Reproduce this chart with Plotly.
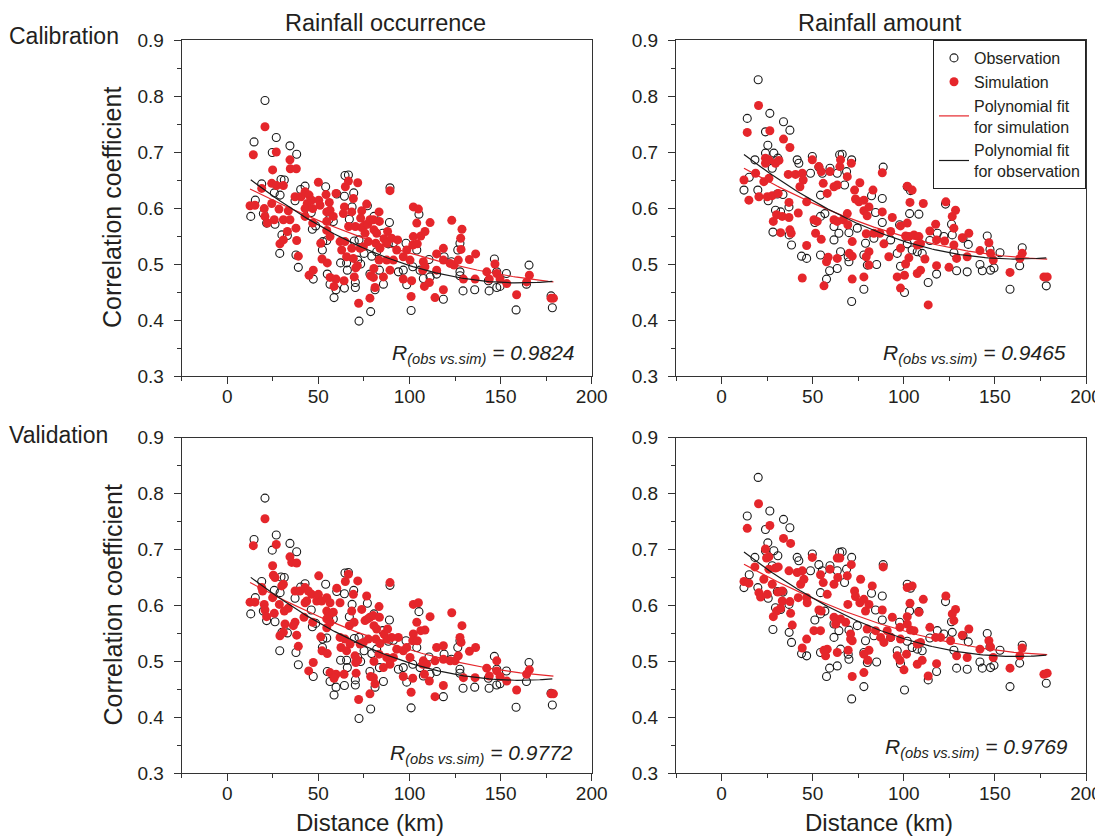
import numpy as np
import plotly.graph_objects as go

# ---------------- data (distance in km, correlation coefficient) ----------------
occ_obs_dist = [20.7, 14.7, 26.9, 24.7, 34.4, 38.1, 12.9, 15.4, 18.9, 19.8,
                21.6, 25.8, 29.0, 29.5, 31.3, 26.2, 30.0, 28.8, 33.0, 37.7,
                39.0, 42.7, 40.3, 37.2, 47.2, 46.7, 46.1, 48.5, 54.0, 52.4,
                54.6, 54.9, 52.2, 56.4, 58.6, 59.7, 58.2, 55.7, 60.1, 64.3,
                64.6, 66.5, 62.2, 65.5, 65.9, 64.3, 70.3, 70.3, 69.4, 68.5,
                67.0, 69.7, 72.3, 72.3, 71.6, 73.2, 75.1, 78.7, 78.3, 81.1,
                79.3, 80.5, 76.9, 82.0, 83.5, 85.3, 85.7, 88.4, 89.3, 89.0,
                91.2, 93.9, 96.6, 98.1, 98.5, 100.9, 101.8, 104.0, 105.2, 105.8,
                107.6, 111.3, 110.7, 114.9, 118.6, 119.0, 123.0, 126.5, 127.7, 127.7,
                127.7, 129.4, 135.8, 143.7, 143.3, 146.6, 147.9, 147.9, 149.7, 153.2,
                158.5, 164.2, 165.6, 177.7, 178.4]
occ_obs_r = [0.792, 0.718, 0.726, 0.699, 0.711, 0.696, 0.585, 0.614, 0.643, 0.590,
             0.573, 0.627, 0.623, 0.651, 0.650, 0.571, 0.552, 0.519, 0.551, 0.516,
             0.494, 0.639, 0.633, 0.613, 0.473, 0.562, 0.592, 0.568, 0.638, 0.540,
             0.542, 0.482, 0.525, 0.464, 0.440, 0.454, 0.576, 0.579, 0.625, 0.621,
             0.658, 0.659, 0.502, 0.502, 0.489, 0.457, 0.467, 0.458, 0.627, 0.602,
             0.580, 0.541, 0.543, 0.398, 0.507, 0.500, 0.519, 0.415, 0.482, 0.454,
             0.514, 0.585, 0.604, 0.522, 0.489, 0.555, 0.464, 0.536, 0.636, 0.574,
             0.538, 0.486, 0.489, 0.537, 0.463, 0.417, 0.495, 0.525, 0.589, 0.489,
             0.474, 0.477, 0.508, 0.482, 0.437, 0.513, 0.504, 0.525, 0.537, 0.486,
             0.479, 0.452, 0.454, 0.452, 0.470, 0.509, 0.486, 0.458, 0.460, 0.483,
             0.418, 0.464, 0.498, 0.443, 0.422]

occ_cal_sim_dist = [20.7, 14.3, 26.9, 34.4, 34.6, 37.9, 24.9, 24.4, 27.1, 30.8,
                    18.9, 12.5, 15.2, 20.3, 20.7, 22.0, 24.4, 28.4, 25.8, 30.8,
                    33.5, 34.4, 37.7, 33.0, 28.9, 30.8, 38.1, 39.0, 37.2, 40.5,
                    42.7, 44.9, 43.9, 42.7, 46.3, 46.9, 42.7, 46.9, 50.0, 50.2,
                    50.9, 54.2, 56.0, 54.6, 56.4, 59.7, 58.2, 54.6, 54.6, 56.4,
                    51.3, 52.0, 54.9, 44.9, 47.2, 56.4, 59.7, 58.6, 64.3, 63.7,
                    64.8, 66.5, 71.6, 69.2, 68.3, 66.6, 70.3, 61.9, 64.6, 62.8,
                    65.5, 68.3, 69.2, 70.5, 71.4, 69.7, 64.1, 72.1, 73.8, 73.2,
                    76.5, 73.8, 75.6, 75.6, 77.1, 78.3, 80.2, 83.3, 83.5, 80.5,
                    82.0, 74.7, 72.9, 77.4, 81.5, 83.8, 86.0, 88.0, 87.5, 90.2,
                    89.3, 83.3, 87.5, 91.2, 89.3, 85.7, 80.5, 78.7, 80.2, 81.1,
                    78.3, 93.5, 93.0, 96.6, 98.5, 100.3, 102.1, 104.9, 104.0, 102.1,
                    101.8, 104.3, 106.2, 108.5, 111.3, 96.6, 101.2, 100.9, 107.6, 107.3,
                    108.5, 108.2, 110.9, 114.0, 114.9, 114.9, 118.6, 118.6, 118.6, 123.2,
                    122.3, 124.5, 128.8, 128.1, 128.3, 126.8, 129.6, 132.9, 136.3, 136.0,
                    142.4, 143.8, 146.9, 147.9, 149.7, 153.4, 158.8, 164.3, 165.8, 177.7,
                    179.0]
occ_cal_sim_r = [0.745, 0.695, 0.700, 0.686, 0.670, 0.670, 0.668, 0.644, 0.640, 0.640,
                 0.635, 0.604, 0.605, 0.599, 0.585, 0.573, 0.608, 0.598, 0.579, 0.579,
                 0.595, 0.579, 0.564, 0.558, 0.536, 0.543, 0.542, 0.514, 0.620, 0.620,
                 0.629, 0.623, 0.608, 0.599, 0.614, 0.599, 0.585, 0.573, 0.646, 0.614,
                 0.605, 0.624, 0.610, 0.593, 0.596, 0.626, 0.585, 0.576, 0.560, 0.549,
                 0.537, 0.509, 0.502, 0.480, 0.489, 0.476, 0.473, 0.460, 0.602, 0.590,
                 0.638, 0.648, 0.645, 0.617, 0.593, 0.567, 0.567, 0.540, 0.540, 0.525,
                 0.513, 0.528, 0.510, 0.493, 0.497, 0.477, 0.470, 0.430, 0.595, 0.582,
                 0.607, 0.565, 0.570, 0.555, 0.571, 0.579, 0.579, 0.593, 0.576, 0.561,
                 0.555, 0.531, 0.528, 0.540, 0.537, 0.528, 0.545, 0.558, 0.537, 0.546,
                 0.631, 0.507, 0.507, 0.507, 0.489, 0.477, 0.492, 0.479, 0.476, 0.458,
                 0.439, 0.543, 0.525, 0.513, 0.525, 0.507, 0.602, 0.598, 0.573, 0.549,
                 0.534, 0.536, 0.550, 0.558, 0.574, 0.473, 0.470, 0.442, 0.504, 0.489,
                 0.495, 0.460, 0.467, 0.440, 0.518, 0.489, 0.528, 0.507, 0.454, 0.578,
                 0.501, 0.498, 0.562, 0.546, 0.526, 0.507, 0.473, 0.508, 0.518, 0.473,
                 0.486, 0.473, 0.500, 0.483, 0.473, 0.465, 0.445, 0.468, 0.480, 0.439,
                 0.439]

occ_val_sim_dist = [20.7, 14.3, 26.9, 34.4, 35.4, 38.1, 24.9, 25.3, 26.2, 29.9,
                    30.8, 18.9, 19.4, 12.5, 15.2, 20.3, 20.7, 21.6, 24.9, 28.6,
                    25.8, 31.3, 33.5, 37.2, 36.3, 31.7, 28.9, 30.8, 38.1, 39.0,
                    37.2, 39.9, 42.7, 44.5, 43.6, 42.7, 46.3, 49.1, 42.1, 46.9,
                    50.2, 50.0, 51.8, 54.6, 56.4, 54.6, 56.4, 60.1, 61.9, 58.2,
                    54.6, 54.6, 56.4, 51.3, 52.0, 54.9, 44.7, 47.2, 56.4, 59.7,
                    58.6, 64.8, 66.5, 71.6, 69.2, 68.3, 67.0, 69.6, 61.9, 64.6,
                    62.4, 65.5, 67.4, 70.1, 70.5, 71.6, 70.7, 64.1, 72.1, 73.8,
                    76.5, 75.6, 77.1, 78.3, 80.2, 83.3, 83.5, 80.5, 82.0, 74.7,
                    72.9, 77.4, 81.5, 83.8, 86.0, 88.0, 87.5, 90.2, 89.3, 83.3,
                    87.5, 91.2, 89.3, 85.7, 80.5, 78.7, 80.2, 81.1, 78.3, 93.9,
                    93.0, 96.6, 98.5, 100.3, 102.1, 104.9, 104.0, 102.1, 101.8, 104.3,
                    106.2, 108.5, 111.3, 96.6, 101.8, 100.9, 107.6, 107.3, 109.4, 108.2,
                    110.9, 114.0, 114.9, 114.0, 118.6, 118.6, 118.6, 123.2, 122.3, 125.0,
                    128.8, 127.7, 128.3, 126.8, 129.6, 132.9, 136.3, 136.0, 142.4, 143.8,
                    147.9, 147.9, 149.7, 153.4, 158.8, 164.3, 165.8, 177.7, 179.0]
occ_val_sim_r = [0.755, 0.707, 0.709, 0.687, 0.677, 0.676, 0.671, 0.654, 0.650, 0.635,
                 0.638, 0.632, 0.626, 0.606, 0.606, 0.602, 0.592, 0.580, 0.614, 0.602,
                 0.586, 0.590, 0.595, 0.570, 0.564, 0.567, 0.546, 0.552, 0.547, 0.527,
                 0.626, 0.626, 0.632, 0.626, 0.608, 0.605, 0.620, 0.608, 0.579, 0.570,
                 0.653, 0.620, 0.608, 0.614, 0.605, 0.590, 0.585, 0.631, 0.605, 0.588,
                 0.576, 0.560, 0.570, 0.544, 0.519, 0.514, 0.483, 0.498, 0.480, 0.477,
                 0.470, 0.643, 0.656, 0.644, 0.620, 0.590, 0.564, 0.570, 0.543, 0.540,
                 0.525, 0.519, 0.531, 0.510, 0.498, 0.502, 0.479, 0.477, 0.432, 0.593,
                 0.617, 0.573, 0.576, 0.579, 0.582, 0.598, 0.579, 0.564, 0.558, 0.534,
                 0.531, 0.540, 0.540, 0.532, 0.549, 0.558, 0.540, 0.543, 0.641, 0.513,
                 0.507, 0.507, 0.495, 0.489, 0.500, 0.473, 0.471, 0.460, 0.442, 0.543,
                 0.522, 0.519, 0.525, 0.507, 0.602, 0.605, 0.570, 0.549, 0.537, 0.537,
                 0.555, 0.556, 0.580, 0.473, 0.470, 0.445, 0.501, 0.495, 0.495, 0.477,
                 0.465, 0.437, 0.525, 0.501, 0.528, 0.504, 0.457, 0.587, 0.501, 0.501,
                 0.564, 0.543, 0.534, 0.510, 0.471, 0.518, 0.525, 0.471, 0.488, 0.474,
                 0.501, 0.483, 0.473, 0.465, 0.449, 0.477, 0.485, 0.442, 0.442]

amt_obs_dist = [20.1, 14.1, 26.5, 34.0, 37.5, 24.1, 25.4, 28.7, 30.9, 24.1,
                18.3, 12.3, 15.2, 19.9, 25.6, 30.6, 33.7, 27.8, 29.6, 32.4,
                28.2, 37.0, 37.1, 38.4, 43.9, 46.7, 41.5, 42.4, 49.8, 48.8,
                53.4, 55.3, 59.5, 63.5, 64.8, 66.2, 71.4, 67.5, 68.6, 54.3,
                56.7, 51.2, 54.3, 61.7, 61.7, 64.4, 69.9, 54.3, 57.6, 59.3,
                63.5, 65.3, 69.5, 69.9, 71.4, 74.5, 78.1, 78.1, 80.0, 79.0,
                82.3, 84.5, 88.2, 88.7, 83.6, 88.2, 85.1, 92.8, 96.4, 97.7,
                98.2, 100.4, 101.9, 103.7, 103.2, 108.3, 101.9, 104.6, 107.4, 110.1,
                113.4, 114.3, 118.4, 118.0, 122.0, 122.9, 126.2, 126.6, 127.5, 129.0,
                132.5, 134.8, 135.4, 141.8, 143.1, 145.8, 147.3, 147.6, 149.5, 152.8,
                158.3, 163.6, 165.0, 178.2]
amt_obs_r = [0.829, 0.760, 0.769, 0.754, 0.739, 0.736, 0.712, 0.698, 0.689, 0.698,
             0.686, 0.632, 0.655, 0.632, 0.613, 0.625, 0.624, 0.671, 0.596, 0.593,
             0.557, 0.602, 0.552, 0.534, 0.514, 0.510, 0.686, 0.680, 0.692, 0.662,
             0.673, 0.662, 0.671, 0.662, 0.695, 0.696, 0.686, 0.641, 0.665, 0.623,
             0.590, 0.574, 0.585, 0.567, 0.543, 0.555, 0.556, 0.516, 0.473, 0.488,
             0.492, 0.522, 0.513, 0.504, 0.433, 0.564, 0.455, 0.516, 0.498, 0.537,
             0.622, 0.592, 0.617, 0.673, 0.546, 0.574, 0.499, 0.543, 0.519, 0.570,
             0.496, 0.449, 0.638, 0.631, 0.590, 0.589, 0.536, 0.525, 0.522, 0.519,
             0.467, 0.542, 0.555, 0.482, 0.549, 0.607, 0.571, 0.552, 0.520, 0.488,
             0.546, 0.486, 0.535, 0.499, 0.488, 0.550, 0.526, 0.489, 0.493, 0.520,
             0.455, 0.497, 0.529, 0.461]

amt_cal_sim_dist = [20.3, 14.1, 26.5, 34.0, 37.5, 24.1, 26.0, 24.1, 29.6, 31.5,
                    12.3, 15.0, 18.7, 20.5, 23.2, 26.0, 25.1, 27.8, 31.1, 28.4,
                    30.2, 33.3, 32.4, 37.0, 37.0, 37.5, 38.2, 36.6, 40.6, 42.1,
                    44.3, 44.8, 43.0, 46.7, 46.7, 44.3, 49.8, 50.7, 51.6, 52.5,
                    54.7, 53.4, 54.7, 55.8, 58.0, 59.5, 61.7, 63.5, 64.9, 65.3,
                    69.0, 71.2, 61.7, 63.5, 66.8, 69.0, 69.3, 71.7, 70.1, 71.7,
                    63.5, 58.5, 57.6, 56.2, 71.7, 73.0, 73.5, 75.9, 75.4, 78.1,
                    78.1, 80.9, 83.1, 79.9, 79.4, 83.6, 80.9, 79.4, 78.1, 80.9,
                    88.2, 88.2, 86.9, 89.1, 92.8, 91.8, 93.7, 98.2, 98.2, 96.4,
                    98.2, 101.0, 101.9, 103.4, 101.9, 104.6, 102.8, 101.0, 100.4, 102.8,
                    105.6, 107.4, 108.3, 109.2, 107.4, 109.2, 110.7, 111.6, 113.4, 114.3,
                    117.5, 118.0, 118.0, 122.4, 123.1, 124.8, 127.5, 128.4, 126.6, 127.5,
                    129.0, 132.1, 135.7, 134.8, 141.8, 146.7, 147.6, 149.1, 158.3, 163.7,
                    165.0, 176.9, 178.7]
amt_cal_sim_r = [0.783, 0.735, 0.738, 0.723, 0.708, 0.689, 0.686, 0.680, 0.680, 0.685,
                 0.650, 0.614, 0.662, 0.620, 0.647, 0.653, 0.620, 0.622, 0.626, 0.576,
                 0.588, 0.585, 0.556, 0.610, 0.583, 0.561, 0.555, 0.660, 0.660, 0.591,
                 0.662, 0.650, 0.638, 0.611, 0.533, 0.475, 0.686, 0.579, 0.555, 0.576,
                 0.544, 0.674, 0.665, 0.644, 0.626, 0.665, 0.638, 0.641, 0.674, 0.686,
                 0.656, 0.680, 0.579, 0.576, 0.579, 0.590, 0.570, 0.540, 0.519, 0.514,
                 0.510, 0.512, 0.504, 0.461, 0.473, 0.632, 0.616, 0.645, 0.611, 0.614,
                 0.595, 0.602, 0.632, 0.586, 0.554, 0.555, 0.522, 0.513, 0.477, 0.498,
                 0.663, 0.593, 0.555, 0.536, 0.558, 0.513, 0.583, 0.568, 0.528, 0.477,
                 0.457, 0.550, 0.573, 0.610, 0.639, 0.632, 0.511, 0.500, 0.480, 0.549,
                 0.552, 0.534, 0.549, 0.536, 0.483, 0.489, 0.608, 0.509, 0.427, 0.559,
                 0.571, 0.543, 0.497, 0.541, 0.611, 0.494, 0.564, 0.596, 0.585, 0.534,
                 0.510, 0.547, 0.555, 0.513, 0.524, 0.538, 0.519, 0.507, 0.485, 0.510,
                 0.519, 0.477, 0.477]

amt_val_sim_dist = [20.3, 14.1, 26.5, 34.0, 37.9, 24.1, 26.0, 24.7, 29.6, 31.1,
                    12.3, 15.0, 18.3, 20.5, 21.4, 23.2, 26.0, 25.1, 27.8, 30.9,
                    33.3, 28.4, 30.2, 32.4, 33.3, 37.5, 37.9, 38.8, 37.0, 41.5,
                    42.1, 44.3, 43.4, 45.2, 46.7, 47.0, 46.7, 44.3, 49.8, 50.7,
                    54.3, 53.4, 54.7, 54.3, 55.8, 58.0, 59.5, 61.7, 63.8, 63.5,
                    64.9, 69.0, 71.2, 61.7, 62.6, 65.3, 68.1, 69.3, 70.8, 70.8,
                    69.5, 71.7, 63.5, 58.0, 57.1, 56.2, 71.7, 73.0, 73.5, 76.3,
                    75.9, 78.1, 79.0, 80.9, 82.7, 79.9, 84.5, 80.9, 78.1, 78.1,
                    80.3, 88.7, 88.2, 87.3, 89.1, 92.8, 90.9, 93.7, 97.9, 98.2,
                    96.4, 97.9, 100.1, 101.9, 101.9, 103.4, 101.9, 104.6, 101.5, 103.7,
                    105.6, 107.4, 108.3, 109.2, 107.4, 110.1, 110.7, 113.4, 114.3, 117.5,
                    118.0, 120.2, 123.1, 125.7, 127.5, 128.4, 126.6, 129.0, 132.1, 135.7,
                    134.8, 141.8, 146.7, 147.6, 149.1, 158.3, 163.7, 165.0, 176.9, 178.7]
amt_val_sim_r = [0.782, 0.738, 0.743, 0.720, 0.711, 0.701, 0.687, 0.685, 0.667, 0.669,
                 0.643, 0.640, 0.669, 0.623, 0.615, 0.647, 0.665, 0.620, 0.638, 0.624,
                 0.626, 0.580, 0.590, 0.595, 0.608, 0.607, 0.586, 0.565, 0.662, 0.659,
                 0.614, 0.662, 0.638, 0.647, 0.614, 0.605, 0.540, 0.524, 0.686, 0.555,
                 0.555, 0.592, 0.590, 0.655, 0.641, 0.620, 0.665, 0.638, 0.650, 0.685,
                 0.685, 0.653, 0.673, 0.579, 0.567, 0.576, 0.570, 0.602, 0.549, 0.540,
                 0.520, 0.537, 0.516, 0.522, 0.510, 0.520, 0.473, 0.626, 0.616, 0.647,
                 0.605, 0.611, 0.590, 0.602, 0.635, 0.558, 0.555, 0.520, 0.513, 0.480,
                 0.502, 0.669, 0.592, 0.543, 0.534, 0.543, 0.555, 0.579, 0.561, 0.540,
                 0.510, 0.502, 0.485, 0.580, 0.567, 0.604, 0.632, 0.635, 0.513, 0.556,
                 0.555, 0.531, 0.588, 0.534, 0.495, 0.502, 0.611, 0.474, 0.561, 0.543,
                 0.496, 0.543, 0.617, 0.537, 0.573, 0.593, 0.585, 0.510, 0.547, 0.558,
                 0.507, 0.522, 0.537, 0.526, 0.507, 0.488, 0.510, 0.524, 0.477, 0.479]

r_labels = ["0.9824", "0.9465", "0.9772", "0.9769"]
column_titles = ["Rainfall occurrence", "Rainfall amount"]
row_titles = ["Calibration", "Validation"]
y_ticks = [0.3, 0.4, 0.5, 0.6, 0.7, 0.8, 0.9]
x_ticks = [0, 50, 100, 150, 200]

# ---------------- styling ----------------
PAGE_W, PAGE_H = 1103, 837
BODY_MARGIN = 8  # default page margin around the plot div
W, H = PAGE_W - BODY_MARGIN, PAGE_H - BODY_MARGIN
FONT = "Liberation Sans, Arial, Helvetica, sans-serif"
TXT = "#231f20"
RED = "#e5262b"
BLK = "#1a1a1a"


def px(x):
    """page pixel x -> paper fraction"""
    return (x - BODY_MARGIN) / W


def py(y):
    """page pixel y -> paper fraction"""
    return 1 - (y - BODY_MARGIN) / H


x_dom = [[px(181.7), px(591.7)], [px(676.0), px(1086.0)]]
y_dom = [[py(376.0), py(40.0)], [py(773.3), py(437.7)]]

panels = [
    (0, 0, occ_obs_dist, occ_obs_r, occ_cal_sim_dist, occ_cal_sim_r, r_labels[0]),
    (0, 1, amt_obs_dist, amt_obs_r, amt_cal_sim_dist, amt_cal_sim_r, r_labels[1]),
    (1, 0, occ_obs_dist, occ_obs_r, occ_val_sim_dist, occ_val_sim_r, r_labels[2]),
    (1, 1, amt_obs_dist, amt_obs_r, amt_val_sim_dist, amt_val_sim_r, r_labels[3]),
]

fig = go.Figure()
layout = dict(
    width=W, height=H,
    margin=dict(l=0, r=0, t=0, b=0, pad=0, autoexpand=False),
    paper_bgcolor="white", plot_bgcolor="white",
    font=dict(family=FONT, color=TXT, size=19),
    showlegend=True,
)

annotations = []
r_pos = [(577, 354), (1068, 354), (575, 754), (1070, 748)]


def poly_curve(xs, ys):
    xs = np.asarray(xs, dtype=float)
    ys = np.asarray(ys, dtype=float)
    coef = np.polyfit(xs, ys, 2)
    xx = np.linspace(xs.min(), xs.max(), 120)
    return xx, np.polyval(coef, xx)


for i, (row, col, ox, oy, sx, sy, rl) in enumerate(panels):
    n = i + 1
    xa = "x" if n == 1 else f"x{n}"
    ya = "y" if n == 1 else f"y{n}"
    show = (row == 0 and col == 1)

    fig.add_trace(go.Scatter(
        x=ox, y=oy, mode="markers", xaxis=xa, yaxis=ya,
        name="Observation", showlegend=show,
        marker=dict(symbol="circle", size=8, color="rgba(255,255,255,0)",
                    line=dict(color=BLK, width=1.1)),
    ))
    fig.add_trace(go.Scatter(
        x=sx, y=sy, mode="markers", xaxis=xa, yaxis=ya,
        name="Simulation", showlegend=show,
        marker=dict(symbol="circle", size=9, color=RED, line=dict(width=0)),
    ))
    fx, fy = poly_curve(sx, sy)
    fig.add_trace(go.Scatter(
        x=fx, y=fy, mode="lines", xaxis=xa, yaxis=ya,
        name="Polynomial fit<br>for simulation", showlegend=show,
        line=dict(color=RED, width=1.2),
    ))
    fx, fy = poly_curve(ox, oy)
    fig.add_trace(go.Scatter(
        x=fx, y=fy, mode="lines", xaxis=xa, yaxis=ya,
        name="Polynomial fit<br>for observation", showlegend=show,
        line=dict(color=BLK, width=1.2),
    ))

    axis_common = dict(
        showline=True, linecolor="#333333", linewidth=1.2, mirror=True,
        ticks="outside", tickcolor="#333333", tickwidth=1.2,
        showgrid=False, zeroline=False, automargin=False,
        tickfont=dict(family=FONT, size=19, color=TXT),
    )
    layout["xaxis" if n == 1 else f"xaxis{n}"] = dict(
        axis_common, domain=x_dom[col], anchor=ya, range=[-25, 200],
        tickvals=x_ticks, ticklen=7, ticklabelstandoff=-4,
        minor=dict(dtick=25, tick0=0, ticklen=4, ticks="outside",
                   tickcolor="#333333", tickwidth=1.2),
    )
    layout["yaxis" if n == 1 else f"yaxis{n}"] = dict(
        axis_common, domain=y_dom[row], anchor=xa, range=[0.3, 0.9],
        tickvals=y_ticks, tickformat=".1f", ticklen=7, ticklabelstandoff=6,
        minor=dict(dtick=0.05, tick0=0.3, ticklen=4, ticks="outside",
                   tickcolor="#333333", tickwidth=1.2),
    )

    rx, ry = r_pos[i]
    annotations.append(dict(
        x=px(rx), y=py(ry), xref="paper", yref="paper",
        xanchor="right", yanchor="middle", showarrow=False,
        text=f"<i>R<sub>(obs vs.sim)</sub> = {rl}</i>",
        font=dict(family=FONT, size=21, color=TXT),
    ))

for t, cx in zip(column_titles, [385, 880]):
    annotations.append(dict(x=px(cx), y=py(23), xref="paper", yref="paper",
                            xanchor="center", yanchor="middle", showarrow=False,
                            text=t, font=dict(family=FONT, size=23.5, color=TXT)))
for t, cy in zip(row_titles, [36, 435]):
    annotations.append(dict(x=px(7), y=py(cy), xref="paper", yref="paper",
                            xanchor="left", yanchor="middle", showarrow=False,
                            text=t, font=dict(family=FONT, size=23, color=TXT)))
for cy in [208, 605.5]:
    annotations.append(dict(x=px(112), y=py(cy), xref="paper", yref="paper",
                            xanchor="center", yanchor="middle", showarrow=False,
                            textangle=-90, text="Correlation coefficient",
                            font=dict(family=FONT, size=25, color=TXT)))
for cx in [370, 879]:
    annotations.append(dict(x=px(cx), y=py(822), xref="paper", yref="paper",
                            xanchor="center", yanchor="middle", showarrow=False,
                            text="Distance (km)",
                            font=dict(family=FONT, size=24, color=TXT)))

layout["annotations"] = annotations
layout["legend"] = dict(
    x=px(1086), y=py(40), xanchor="right", yanchor="top",
    bgcolor="white", bordercolor="#222222", borderwidth=1,
    font=dict(family=FONT, size=16, color=TXT),
    itemwidth=30, tracegroupgap=0, traceorder="normal",
)

fig.update_layout(**layout)
fig.write_html("out.html")
